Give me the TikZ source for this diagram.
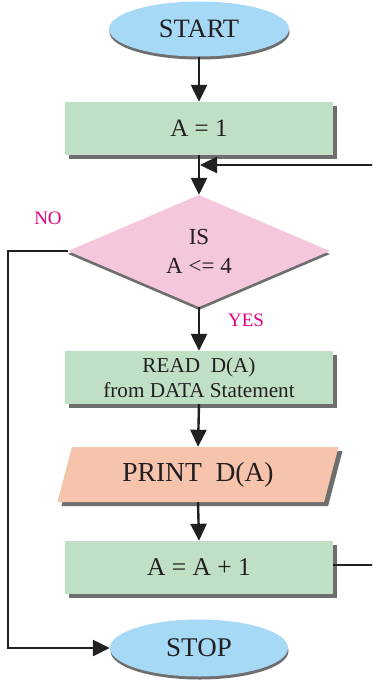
\documentclass[tikz,border=0pt]{standalone}
\usepackage{fontspec}
\setmainfont{Liberation Serif}
\usetikzlibrary{shapes.geometric,shadows,arrows.meta}

\definecolor{termblue}{HTML}{A6D9F5}
\definecolor{procgreen}{HTML}{C0E0C5}
\definecolor{decpink}{HTML}{F5C7DD}
\definecolor{iosalmon}{HTML}{F6C4AD}
\definecolor{shadowgray}{HTML}{6E6E6E}
\definecolor{ink}{HTML}{231F20}
\definecolor{labelmag}{HTML}{E6007E}

\tikzset{
  terminal/.style={ellipse, fill=termblue, inner sep=0pt, text=ink,
    minimum width=180pt, minimum height=55pt, font=\fontsize{26.5}{28}\selectfont,
    drop shadow={shadow xshift=0.5pt, shadow yshift=-3pt, fill=shadowgray, opacity=1}},
  process/.style={rectangle, fill=procgreen, inner sep=0pt, text=ink, align=center,
    minimum width=268pt, minimum height=53pt, font=\fontsize{25.5}{27}\selectfont,
    drop shadow={shadow xshift=4pt, shadow yshift=-4pt, fill=shadowgray, opacity=1}},
  decision/.style={diamond, fill=decpink, inner sep=0pt, text=ink, align=center,
    aspect=2.34, minimum width=262pt, minimum height=112pt,
    font=\fontsize{23}{29}\selectfont,
    drop shadow={shadow xshift=0pt, shadow yshift=-3pt, fill=shadowgray, opacity=1}},
  iobox/.style={trapezium, trapezium left angle=60, trapezium right angle=120,
    trapezium stretches body=true, fill=iosalmon, inner sep=0pt, text=ink,
    minimum width=281pt, minimum height=55pt, font=\fontsize{27.5}{29}\selectfont,
    drop shadow={shadow xshift=4pt, shadow yshift=-4pt, fill=shadowgray, opacity=1}},
  flow/.style={draw=ink, line width=2.4pt, -{Triangle[length=17pt,width=16pt]}},
  answer/.style={text=labelmag, font=\fontsize{19}{21}\selectfont}
}

\begin{document}
\begin{tikzpicture}[x=1pt, y=-1pt]
  \clip (0,0) rectangle (372,687);
  \fill[white] (0,0) rectangle (372,687);

  % boxes of the flowchart
  \node[terminal] (start) at (199,29) {START};
  \node[process, font=\fontsize{25}{27}\selectfont] (init) at (199,128.5) {A = 1};
  \node[decision] (test)  at (199,251) {IS\\A <= 4};
  \node[process, font=\fontsize{21.2}{25}\selectfont] (read) at (199,377.5)
       {READ\ \ D(A)\\from DATA Statement};
  \node[iobox]    (print) at (198,474.5) {PRINT\ \ D(A)};
  \node[process]  (inc)   at (199,567.5) {A = A + 1};
  \node[terminal, minimum width=178pt, minimum height=57pt, font=\fontsize{27}{29}\selectfont]
       (stop) at (199,648) {STOP};

  % branch labels
  \node[answer] (nolbl)  at (48,218) {NO};
  \node[answer] (yeslbl) at (246,320) {YES};

  % main flow
  \draw[flow] (start.south) -- (init.north);
  \draw[flow] (init.south) -- (test.north);
  \draw[flow] (test.south) -- (read.north);
  \draw[flow] (read.south) -- (print.north);
  \draw[flow] (print.south) -- (inc.north);

  % loop back to the test
  \coordinate (merge) at (200,165);
  \coordinate (loopout) at (390,565);
  \draw[flow] (inc.east |- loopout) -- (loopout) |- (merge);

  % exit when the test fails
  \coordinate (exitcorner) at (8,251);
  \draw[flow] (test.west) -- (exitcorner) |- (stop.west);
\end{tikzpicture}
\end{document}
